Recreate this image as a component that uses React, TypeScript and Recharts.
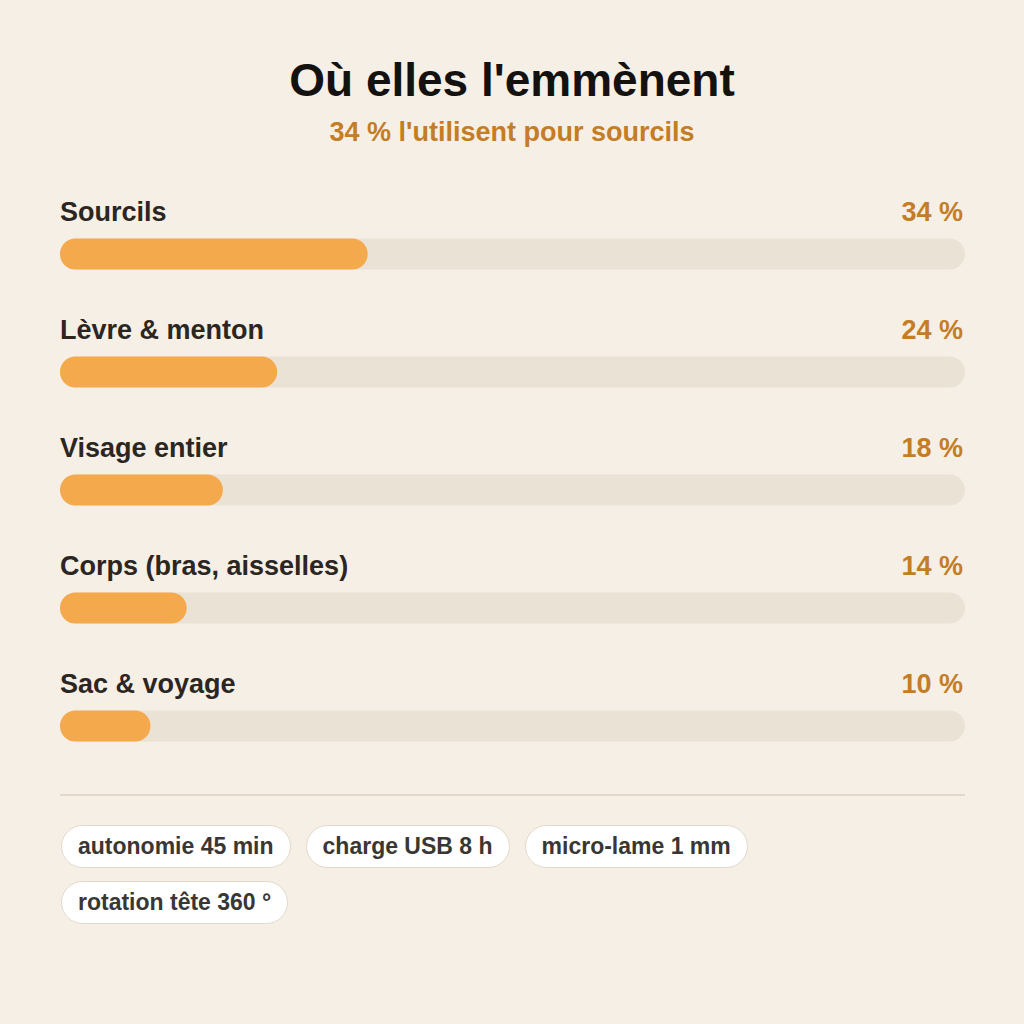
import { Bar, BarChart, LabelList, XAxis, YAxis } from "recharts";

const categories = [
  "Sourcils",
  "Lèvre & menton",
  "Visage entier",
  "Corps (bras, aisselles)",
  "Sac & voyage",
];
const shares = [34, 24, 18, 14, 10];
const specs = [
  "autonomie 45 min",
  "charge USB 8 h",
  "micro-lame 1 mm",
  "rotation tête 360 °",
];

const data = categories.map((name, i) => ({ name, value: shares[i] }));

const FONT = "'Liberation Sans', Arial, sans-serif";
const PLOT_LEFT = 60;
const PLOT_RIGHT = 59;
const PLOT_WIDTH = 1024 - PLOT_LEFT - PLOT_RIGHT;

type LabelProps = {
  x?: number;
  y?: number;
  index?: number;
  value?: number;
};

const RowLabel = ({ x = 0, y = 0, index = 0, value }: LabelProps) => (
  <g>
    <text
      x={x}
      y={y - 18}
      fontFamily={FONT}
      fontSize={27}
      fontWeight={700}
      fill="#2b2622"
    >
      {categories[index]}
    </text>
    <text
      x={x + PLOT_WIDTH - 2}
      y={y - 18}
      textAnchor="end"
      fontFamily={FONT}
      fontSize={27}
      fontWeight={700}
      fill="#c47d25"
    >
      {value} %
    </text>
  </g>
);

export default function App() {
  return (
    <div
      style={{
        position: "fixed",
        top: 0,
        left: 0,
        width: 1024,
        height: 1024,
        background: "#f6efe5",
        fontFamily: FONT,
        overflow: "hidden",
      }}
    >
      <div
        style={{
          position: "absolute",
          top: 52,
          width: "100%",
          textAlign: "center",
          fontSize: 46,
          fontWeight: 700,
          color: "#141210",
          lineHeight: "56px",
        }}
      >
        Où elles l'emmènent
      </div>
      <div
        style={{
          position: "absolute",
          top: 115,
          width: "100%",
          textAlign: "center",
          fontSize: 27,
          fontWeight: 700,
          color: "#c47d25",
          lineHeight: "34px",
        }}
      >
        34 % l'utilisent pour sourcils
      </div>

      <div style={{ position: "absolute", top: 0, left: 0 }}>
        <BarChart
          width={1024}
          height={1024}
          data={data}
          layout="vertical"
          margin={{ top: 194.5, right: PLOT_RIGHT, bottom: 239.5, left: PLOT_LEFT }}
        >
          <XAxis type="number" domain={[0, 100]} hide />
          <YAxis type="category" dataKey="name" hide />
          <Bar
            dataKey="value"
            barSize={31}
            fill="#f5a94d"
            radius={15.5}
            background={{ fill: "#ebe2d6", radius: 15.5 }}
            isAnimationActive={false}
          >
            <LabelList dataKey="value" content={<RowLabel />} />
          </Bar>
        </BarChart>
      </div>

      <div
        style={{
          position: "absolute",
          top: 794,
          left: 60,
          width: 905,
          height: 2,
          background: "#e2d9cc",
        }}
      />

      <div
        style={{
          position: "absolute",
          top: 825,
          left: 61,
          width: 720,
          display: "flex",
          flexWrap: "wrap",
          columnGap: 15,
          rowGap: 13,
        }}
      >
        {specs.map((s) => (
          <div
            key={s}
            style={{
              height: 43,
              boxSizing: "border-box",
              padding: "0 16px",
              border: "1.5px solid #e2d9cb",
              borderRadius: 22,
              background: "#ffffff",
              fontSize: 23,
              fontWeight: 700,
              color: "#3a3633",
              lineHeight: "40px",
              whiteSpace: "nowrap",
            }}
          >
            {s}
          </div>
        ))}
      </div>
    </div>
  );
}
